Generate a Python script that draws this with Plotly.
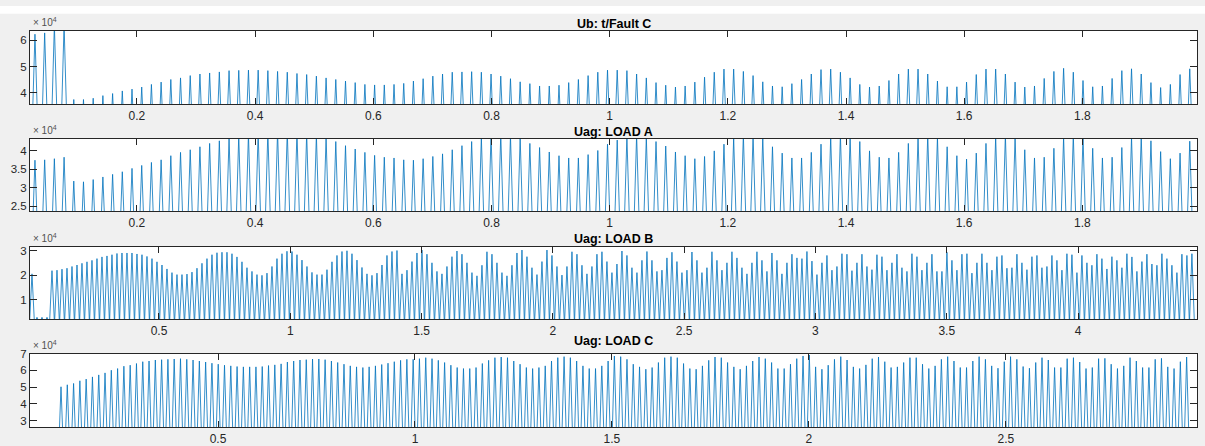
import numpy as np
import plotly.graph_objects as go

W, H = 1205, 446

# ---------------- data (values in units of 1e4, as shown by the x10^4 multiplier) ----------------
# peak value of every cycle, read left to right
fault_c_peaks = [
    6.24, 6.29, 6.60, 6.60, 3.73, 3.73, 3.78, 3.88, 3.96, 4.06, 4.13, 4.21, 4.31, 4.40, 4.50, 4.56,
    4.65, 4.71, 4.75, 4.79, 4.84, 4.85, 4.86, 4.86, 4.84, 4.81, 4.78, 4.73, 4.69, 4.63, 4.56, 4.50,
    4.44, 4.38, 4.31, 4.29, 4.29, 4.31,
    4.35, 4.44, 4.53, 4.63, 4.71, 4.78, 4.79, 4.80, 4.78, 4.71, 4.63, 4.53, 4.41, 4.34, 4.25, 4.25,
    4.28, 4.38, 4.50, 4.65, 4.78, 4.86, 4.86, 4.84, 4.71, 4.56, 4.38, 4.28, 4.21, 4.25, 4.40, 4.59,
    4.78, 4.90, 4.90, 4.81, 4.65, 4.41, 4.25, 4.22, 4.34,
    4.50, 4.71, 4.88, 4.90, 4.78, 4.56, 4.31, 4.21, 4.25, 4.46, 4.71, 4.90, 4.90, 4.71, 4.44, 4.22,
    4.22, 4.40, 4.69, 4.90, 4.90, 4.71, 4.40, 4.21, 4.25, 4.54, 4.81, 4.93, 4.78, 4.46, 4.22, 4.25,
    4.54, 4.84, 4.91, 4.71, 4.38, 4.19, 4.31, 4.69, 4.91,
]
load_a_peaks = [
    3.74, 3.75, 3.78, 3.82, 3.18, 3.16, 3.22, 3.29, 3.36, 3.43, 3.52, 3.60, 3.68, 3.75, 3.86, 3.95,
    4.02, 4.10, 4.19, 4.26, 4.34, 4.40, 4.45, 4.48, 4.50, 4.52, 4.52, 4.50, 4.47, 4.42, 4.36, 4.24,
    4.13, 4.04, 3.95, 3.87, 3.82, 3.80,
    3.75, 3.74, 3.78, 3.84, 3.91, 4.02, 4.13, 4.24, 4.36, 4.42, 4.44, 4.40, 4.34, 4.19, 4.08, 3.96,
    3.86, 3.80, 3.80, 3.89, 4.00, 4.17, 4.28, 4.38, 4.42, 4.36, 4.24, 4.12, 3.96, 3.86, 3.78, 3.84,
    3.99, 4.17, 4.34, 4.42, 4.42, 4.36, 4.10, 3.93, 3.80,
    3.80, 3.95, 4.17, 4.36, 4.42, 4.36, 4.24, 3.99, 3.82, 3.80, 3.95, 4.19, 4.36, 4.42, 4.36, 4.10,
    3.86, 3.77, 3.93, 4.19, 4.36, 4.42, 4.36, 4.02, 3.80, 3.82, 4.06, 4.36, 4.42, 4.36, 4.06, 3.80,
    3.82, 4.08, 4.36, 4.38, 4.26, 3.97, 3.78, 3.93, 4.25,
]
load_b_peaks = [
    2.05, 0.28, 0.28, 0.28,
    2.18, 2.20, 2.24, 2.28, 2.35, 2.41, 2.48, 2.54, 2.60, 2.67, 2.74, 2.78, 2.83, 2.88, 2.90, 2.90,
    2.90, 2.86, 2.83, 2.76, 2.67, 2.54, 2.41, 2.25, 2.10, 2.02, 2.02, 2.04, 2.12, 2.28, 2.48, 2.67,
    2.83, 2.91, 2.93, 2.93, 2.87, 2.74, 2.54, 2.30, 2.15, 2.02, 1.99, 2.08, 2.35, 2.67, 2.87, 2.97,
    2.96, 2.83, 2.61, 2.35, 2.11, 2.02, 2.02, 2.22, 2.54, 2.80, 2.96, 2.99, 2.87, 2.61, 2.31, 2.05,
    1.99, 2.08, 2.41, 2.80, 2.96, 3.00,
    2.05, 2.20, 2.55, 2.90, 3.02, 2.85, 2.50, 2.15, 2.05, 2.35, 2.75, 2.98, 2.85, 2.50, 2.10, 1.97,
    2.40, 2.95, 2.85, 2.50, 2.10, 1.97, 2.40, 2.90, 3.02, 2.75, 2.30, 2.02, 2.55, 3.02, 2.80, 2.35,
    2.00, 2.35, 2.95, 2.85, 2.40, 2.05, 2.35, 2.85, 2.95, 2.55, 2.10, 2.45, 2.98, 2.80, 2.30, 2.10,
    2.60, 2.96, 2.60, 2.15, 2.20, 2.70, 2.93, 2.55, 2.10, 2.20, 2.94, 2.60, 2.10, 2.30, 2.95, 2.60,
    2.20, 2.50, 2.95, 2.70, 2.30, 2.05, 2.50, 2.95, 2.60, 2.15, 2.90, 2.60, 2.05, 2.50, 2.85, 2.70,
    2.67, 2.96, 2.57, 2.02, 2.50, 2.80, 2.20, 2.35, 2.87, 2.85, 2.18, 2.50, 2.85, 2.35, 2.22, 2.83,
    2.75, 2.20, 2.50, 2.85, 2.30, 2.15, 2.87, 2.75, 2.20, 2.50, 2.85, 2.15, 2.15, 2.93, 2.60, 2.20,
    2.85, 2.87, 2.08, 2.50, 2.87, 2.50, 2.20, 2.75, 2.80, 2.28, 2.30, 2.85, 2.50, 2.22, 2.75, 2.80,
    2.30, 2.35, 2.80, 2.60, 2.20, 2.87, 2.83, 2.10, 2.80, 2.50, 2.40, 2.85, 2.67, 2.25, 2.75, 2.60,
    2.30, 2.87, 2.74, 2.15, 2.55, 2.85, 2.45, 2.40, 2.87, 2.67, 2.40, 2.10, 2.85, 2.80, 2.87,
]
load_c_peaks = [
    5.02, 5.14, 5.22, 5.38, 5.48, 5.61, 5.73, 5.85, 6.01, 6.11, 6.25, 6.31, 6.41, 6.52, 6.56, 6.62,
    6.64, 6.66, 6.68, 6.70, 6.66, 6.62, 6.56, 6.50, 6.43, 6.37, 6.31, 6.27, 6.23, 6.21, 6.21, 6.21,
    6.23, 6.29, 6.33, 6.39, 6.50, 6.56, 6.62, 6.64, 6.68, 6.68, 6.64, 6.56, 6.47, 6.37, 6.27, 6.21,
    6.17, 6.21, 6.27, 6.35, 6.43, 6.52, 6.60, 6.66,
    6.66, 6.70, 6.76, 6.70, 6.60, 6.47, 6.31, 6.17, 6.11, 6.11, 6.17, 6.41, 6.60, 6.76, 6.80, 6.76,
    6.56, 6.37, 6.17, 6.11, 6.17, 6.27, 6.56, 6.76, 6.82, 6.76, 6.56, 6.27, 6.11, 6.11, 6.27, 6.56,
    6.86, 6.82, 6.66, 6.37, 6.21, 6.07, 6.17, 6.47, 6.76, 6.82, 6.76, 6.41, 6.11, 6.07, 6.27, 6.60,
    6.80, 6.76, 6.47, 6.21, 6.07, 6.27, 6.56, 6.80, 6.70, 6.47, 6.11, 6.11, 6.37, 6.70,
    6.86, 6.92, 6.21, 6.07, 6.31, 6.66, 6.82, 6.62, 6.21, 6.11, 6.33, 6.70, 6.80, 6.52, 6.17, 6.21,
    6.47, 6.76, 6.76, 6.37, 6.11, 6.27, 6.66, 6.82, 6.56, 6.17, 6.17, 6.56, 6.82, 6.66, 6.27, 6.13,
    6.52, 6.82, 6.66, 6.23, 6.13, 6.47, 6.76, 6.62, 6.17, 6.17, 6.70, 6.76, 6.50, 6.11, 6.17, 6.70,
    6.72, 6.37, 6.11, 6.27, 6.76, 6.56, 6.17, 6.17, 6.66, 6.72, 6.21, 6.11, 6.52, 6.80,
]

# sampling grid of the cycles (time of first peak, cycle length, in s)
fault_c_t0, fault_c_dt = 0.0274, 0.016423
load_a_t0, load_a_dt = 0.0274, 0.016423
load_b_t0, load_b_dt = 0.01637, 0.01904
load_c_t0, load_c_dt = 0.1015, 0.015962
trough_value = 0.0

titles = ["Ub: t/Fault C", "Uag: LOAD A", "Uag: LOAD B", "Uag: LOAD C"]

x_ranges = [[0.019, 1.994], [0.019, 1.994], [0.0088, 4.453], [0.0228, 2.985]]
y_ranges = [[3.55, 6.38], [2.37, 4.32], [0.2, 3.16], [2.6, 7.0]]
x_ticks = [
    [0.2, 0.4, 0.6, 0.8, 1.0, 1.2, 1.4, 1.6, 1.8],
    [0.2, 0.4, 0.6, 0.8, 1.0, 1.2, 1.4, 1.6, 1.8],
    [0.5, 1.0, 1.5, 2.0, 2.5, 3.0, 3.5, 4.0],
    [0.5, 1.0, 1.5, 2.0, 2.5],
]
y_ticks = [[4, 5, 6], [2.5, 3, 3.5, 4], [1, 2, 3], [3, 4, 5, 6, 7]]

# ---------------- layout geometry (pixels) ----------------
plot_left, plot_right = 30, 1197
panel_px = [(25, 100), (135, 209), (245, 319), (354, 429)]
title_px = [18, 128, 237, 341]

LINE = "#0072BD"
AX = "#262626"
FONT = "Liberation Sans, Arial, Helvetica, sans-serif"


def wave(peaks, t0, dt, trough):
    peaks = np.asarray(peaks, dtype=float)
    n = len(peaks)
    tp = t0 + dt * np.arange(n)
    x = np.empty(2 * n + 1)
    y = np.empty(2 * n + 1)
    x[1::2] = tp
    x[0::2] = np.append(tp - dt / 2, tp[-1] + dt / 2)
    y[1::2] = peaks
    y[0::2] = trough
    return x, y


series = [
    (fault_c_peaks, fault_c_t0, fault_c_dt),
    (load_a_peaks, load_a_t0, load_a_dt),
    (load_b_peaks, load_b_t0, load_b_dt),
    (load_c_peaks, load_c_t0, load_c_dt),
]

fig = go.Figure()
layout = dict(
    width=W, height=H,
    margin=dict(l=0, r=0, t=0, b=0),
    paper_bgcolor="#f0f0f0",
    plot_bgcolor="#ffffff",
    showlegend=False,
    font=dict(family=FONT, size=11, color=AX),
)
annotations = []
shapes = [dict(type="rect", xref="paper", yref="paper", x0=0, x1=1, y0=1 - 8 / H, y1=1,
               fillcolor="#ffffff", line=dict(width=0), layer="below")]

for i, (pk, t0, dt) in enumerate(series):
    k = "" if i == 0 else str(i + 1)
    x, y = wave(pk, t0, dt, trough_value)
    fig.add_trace(go.Scatter(x=x, y=y, mode="lines", xaxis="x" + k, yaxis="y" + k,
                             line=dict(color=LINE, width=0.8), hoverinfo="skip"))
    top_px, bot_px = panel_px[i]
    ydom = [1 - bot_px / H, 1 - top_px / H]
    xdom = [plot_left / W, plot_right / W]
    layout["xaxis" + k] = dict(
        domain=xdom, anchor="y" + k, range=x_ranges[i],
        tickmode="array", tickvals=x_ticks[i], ticktext=[f"{v:g}" for v in x_ticks[i]],
        ticks="inside", ticklen=6, tickcolor=AX, tickwidth=1,
        showline=True, linecolor=AX, linewidth=1, mirror="ticks",
        showgrid=False, zeroline=False, tickfont=dict(size=12, color=AX),
    )
    layout["yaxis" + k] = dict(
        domain=ydom, anchor="x" + k, range=y_ranges[i],
        tickmode="array", tickvals=y_ticks[i], ticktext=[f"{v:g}" for v in y_ticks[i]],
        ticks="inside", ticklen=7, tickcolor=AX, tickwidth=1,
        showline=True, linecolor=AX, linewidth=1, mirror="ticks",
        showgrid=False, zeroline=False, tickfont=dict(size=11.5, color=AX),
    )
    annotations.append(dict(
        text="<b>" + titles[i] + "</b>", xref="paper", yref="paper",
        x=(plot_left + plot_right) / 2 / W, y=1 - title_px[i] / H,
        xanchor="center", yanchor="middle", showarrow=False,
        font=dict(family=FONT, size=12.5, color="#000000"),
    ))
    annotations.append(dict(
        text="× 10<sup>4</sup>", xref="paper", yref="paper",
        x=(plot_left + 1) / W, y=1 - (top_px - 1) / H,
        xanchor="left", yanchor="bottom", showarrow=False,
        font=dict(family=FONT, size=10, color="#505050"),
    ))

layout["annotations"] = annotations
layout["shapes"] = shapes
fig.update_layout(**layout)
fig.write_html(
    "out.html",
    config={"displayModeBar": False},
    post_script="document.body.style.margin='0';document.body.style.padding='0';"
                "document.body.style.overflow='hidden';",
)
